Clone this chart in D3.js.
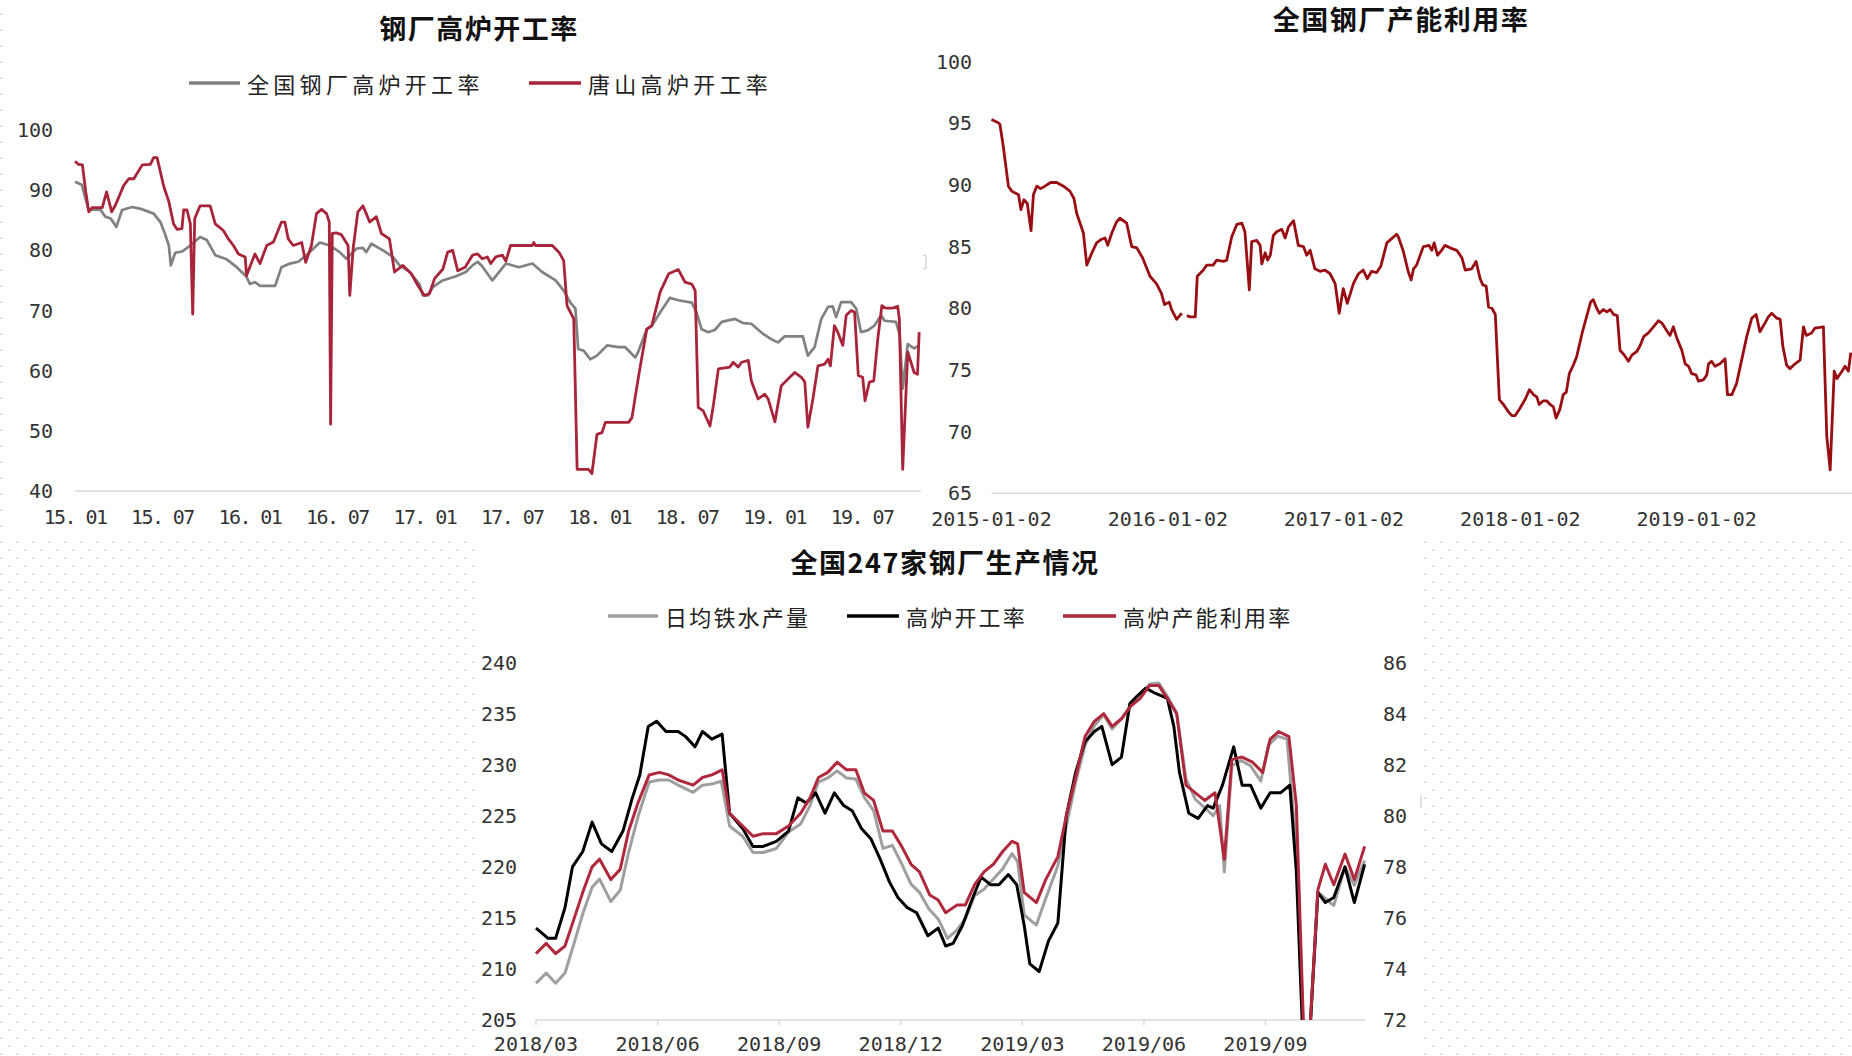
<!DOCTYPE html>
<html>
<head>
<meta charset="utf-8">
<script src="https://cdn.jsdelivr.net/npm/d3@7"></script>
<style>
  html, body { margin: 0; padding: 0; background: #fff; }
  svg { display: block; }
</style>
</head>
<body>
<svg id="chart" width="1852" height="1056"></svg>
<script>
/* ── data: chart 1 (weekly, x = weeks since 2015-01) ─────────── */
const c1Ticks  = ['15. 01', '15. 07', '16. 01', '16. 07', '17. 01', '17. 07', '18. 01', '18. 07', '19. 01', '19. 07'];
const c1YTicks = [40, 50, 60, 70, 80, 90, 100];

const c1National = [
  [0,91.4],[2,90.9],[4,86.8],[7.6,86.7],[9,85.6],[10.6,85.3],[12.3,83.9],[14,86.7],[17,87.2],[19.5,86.9],
  [23.4,86.1],[25.4,84.7],[26.9,82.5],[27.9,80.8],[28.5,77.5],[29.8,79.6],[31.8,79.8],[34.3,80.8],[37.2,82.2],
  [39.2,81.7],[41.7,79.2],[45.1,78.5],[48.1,77.2],[51,75.6],[52,74.4],[53.5,74.7],[55,74.1],[59.5,74.1],
  [61.4,77.2],[63.9,77.8],[66.4,78.1],[68.8,79.2],[72.8,81.3],[75.8,80.8],[78.7,79.7],[80.7,78.6],[83.7,80.3],
  [85.6,80.4],[86.6,79.7],[88.1,81.1],[91.6,80.0],[94.5,78.9],[96.5,77.5],[99.5,76.4],[102.4,74.4],[103.4,72.5],
  [104.9,72.5],[106.4,73.9],[109.3,75],[113.3,75.7],[116.2,76.4],[118.2,77.5],[119.7,78.1],[121,77.4],[124.1,75],
  [128.1,77.8],[132,77.2],[136,77.8],[138.9,76.4],[142.9,75],[145.3,73.3],[147.3,71.3],[148.8,70.3],[149.6,63.6],
  [151.3,63.3],[153.2,61.9],[155.2,62.5],[158.2,64.2],[161.6,63.9],[163.6,63.9],[166.6,62.2],[167.6,63.3],
  [170,66.9],[171.5,67.4],[174,69.7],[176.9,72.1],[179.4,71.7],[183.4,71.3],[184.8,69.7],[186.3,66.9],[188.3,66.4],
  [190.3,66.8],[192.3,68.1],[196.2,68.6],[198.7,67.9],[201.1,67.8],[204.6,66.1],[207.1,65.2],[209,64.7],[211,65.7],
  [216.4,65.7],[217.9,62.5],[219.9,63.9],[221.9,68.6],[223.9,70.6],[225.3,70.7],[226.3,68.9],[227.8,71.4],
  [230.8,71.4],[232.3,70.3],[233.7,66.4],[235.7,66.7],[237.7,67.5],[239.7,69.2],[240.7,68.3],[244.1,68.1],
  [245.2,66],[246.1,57],[247.6,64.4],[249.5,63.7],[251,64.2]
];

const c1Tangshan = [
  [0,94.8],[1,94.3],[2.2,94.2],[3.2,89.7],[4.1,86.4],[5.1,87.1],[8.1,87.1],[9.4,89.7],[10.9,86.4],[12,87.5],
  [14.5,90.8],[16,91.9],[17.5,91.9],[20,94.2],[22.4,94.3],[23.4,95.4],[24.4,95.4],[26.4,90.6],[27.9,88.1],
  [29.3,84.4],[30.3,83.5],[31.8,83.6],[32.3,86.7],[33.3,86.7],[34.3,84.4],[35,69.4],[35.6,85.3],[37.2,87.4],
  [40.2,87.4],[41.7,84.4],[44.1,83.3],[45.6,81.9],[47.1,80.8],[48.6,79.4],[50.6,78.9],[51,75.8],[53.5,79.4],
  [55,77.8],[57,80.8],[59,81.4],[61.4,84.7],[62.4,84.7],[63.4,81.9],[64.9,80.8],[67.4,81.3],[68.6,78],[70.3,80.8],
  [71.8,86.1],[73.3,86.8],[74.8,86.1],[75.6,84.7],[76,51.1],[76.5,82.8],[77.7,82.9],[79.2,82.6],[81.2,80.8],
  [81.7,72.5],[82.7,80.3],[84.1,86.4],[85.6,87.4],[86.6,86.1],[87.6,84.7],[89.6,85.6],[91.1,82.8],[93.5,81.9],
  [95,76.4],[97.5,77.5],[100,76.1],[101.9,74.2],[103.9,72.5],[105.4,72.8],[106.9,75.3],[109.4,76.9],[110.8,79.7],
  [112.3,80],[113.8,76.6],[116,77.2],[118.2,79.2],[119.7,79.4],[121.1,78.6],[122.6,78.9],[123.6,77.8],[125.1,78.9],
  [127.1,79.2],[128.1,78.2],[129.5,80.8],[136,80.8],[136.4,81.3],[136.9,80.8],[141.9,80.8],[143.9,79.7],
  [145.3,78.3],[146.3,70.8],[148.3,68.6],[149.3,43.6],[152.7,43.6],[153.7,42.9],[155.2,49.4],[156.7,49.7],
  [157.7,51.4],[164.6,51.4],[165.6,52.2],[167.6,59.2],[170,66.9],[171.5,67.5],[174,73.1],[176.5,76.1],[179.4,76.8],
  [181.4,74.7],[183.4,74.4],[184.4,73.3],[185.3,53.9],[186.8,53.3],[188.8,50.8],[189.8,54.2],[191.3,60.3],
  [194.7,60.6],[195.7,61.4],[197.2,60.6],[198.2,61.4],[200.2,61.7],[201.1,58.3],[203.1,55.3],[205.1,56.1],
  [206.1,55.3],[208.1,51.5],[210,57.5],[212,58.6],[214,59.7],[216,58.9],[217,58.1],[217.9,50.6],[219.4,55.3],
  [220.9,60.8],[222.9,61.1],[223.9,61.9],[224.6,60.8],[225.8,67.5],[226.8,66.4],[228.3,64.2],[229.3,69.2],
  [230.8,70],[231.8,69.7],[232.9,59.2],[234.2,58.9],[234.9,55],[236.2,58.1],[237.5,58.3],[238.7,65.3],[239.9,70.8],
  [241.1,70.4],[243.1,70.4],[244.6,70.7],[245.1,68.6],[246.1,43.6],[247.6,63.1],[249.5,59.7],[250.5,59.4],[251,66.4]
];

/* ── data: chart 2 (weekly, x = weeks since 2015-01-02) ──────── */
const c2Ticks     = ['2015-01-02', '2016-01-02', '2017-01-02', '2018-01-02', '2019-01-02'];
const c2TickWeeks = [0, 52.2, 104.3, 156.5, 208.7];
const c2YTicks    = [65, 70, 75, 80, 85, 90, 95, 100];

const c2Utilization = [
  [0,95.3],[2,95.05],[2.5,94.9],[3.5,93.1],[5,89.9],[6,89.5],[8,89.2],[8.7,88],[9.6,88.8],[10.6,88.5],[11.7,86.3],
  [12.4,89.2],[13.4,89.9],[14.5,89.7],[15.8,89.9],[17.5,90.2],[19.3,90.2],[21.3,89.9],[23.2,89.5],[24.4,88.9],
  [25.2,87.7],[27.2,86.1],[28.2,83.5],[29.7,84.5],[31.1,85.3],[32.6,85.6],[33.6,85.7],[34.4,85.1],[35.6,86.1],
  [37,87],[38,87.3],[40,86.9],[41.5,85],[43,84.9],[44.7,84.1],[46.9,82.6],[48.8,82],[50.3,81.2],[51.2,80.3],
  [52.6,80.5],[53.3,79.9],[54.8,79.1],[56.3,79.6],[57,null],[57.8,79.4],[58.8,79.3],[60.3,79.3],[60.9,82.6],
  [62.7,83.1],[63.7,83.5],[65.6,83.5],[66.6,83.9],[68.6,83.8],[69.6,83.9],[71.1,85.8],[72.6,86.8],[74.1,86.9],
  [75,86.2],[76.3,81.5],[77,85.4],[78.5,85.5],[79.5,85.1],[80,83.6],[81,84.5],[81.7,83.9],[82.5,84.3],[83.4,85.9],
  [84.4,86.2],[85.9,86.4],[86.9,85.7],[87.9,86.6],[89.4,87.1],[90.8,85.1],[92.3,85],[93.3,84.3],[94.3,84.7],
  [95.7,83.2],[97.2,83],[98.7,83.1],[100.2,82.8],[101.7,82],[102.9,79.6],[104.1,81.6],[105.3,80.4],[107.1,82],
  [108.6,82.8],[110,83.1],[111.2,82.4],[112.5,83],[114,82.9],[115.2,83.4],[117,85.3],[119.9,86],[120.4,85.8],
  [121.9,84.6],[123.3,83],[124.2,82.3],[124.9,83.2],[125.8,83.5],[127.8,85],[129.5,85.1],[130.3,84.7],[131,85.3],
  [132,84.3],[133.2,84.7],[134.2,85.1],[135.7,84.9],[137.7,84.7],[139.2,84.1],[140.2,83.1],[142.1,83.2],
  [143.4,83.8],[144.6,82.4],[145.4,81.9],[146.4,81.8],[147.1,80.1],[148.1,80],[149.1,79.5],[150.3,72.6],
  [151.5,72.2],[153,71.6],[154,71.3],[155,71.3],[156.4,71.9],[157.9,72.6],[159.2,73.4],[160.4,73],[161.4,72.8],
  [162.1,72.2],[163.3,72.5],[164.3,72.5],[165.3,72.2],[166.3,72],[167.1,71.1],[168.2,71.8],[169.2,73],[170.1,73.2],
  [171,74.7],[172.2,75.4],[173.2,76.1],[174.8,78],[176.1,79.3],[177.3,80.5],[178.1,80.7],[179.1,80],[179.9,79.6],
  [181.1,79.9],[182.1,79.7],[183.1,79.9],[184.1,79.5],[185.2,79.4],[186,76.6],[187.3,76.2],[188.5,75.7],
  [189.5,76.2],[191,76.5],[192,77],[193,77.7],[194.4,78],[195.9,78.5],[197.4,79],[198.4,78.8],[199.8,78.2],
  [200.8,77.8],[201.8,78.5],[202.8,77.6],[204.3,76.6],[205.3,75.5],[206.3,75.3],[207.2,74.7],[208.5,74.6],
  [209.2,74.1],[210.7,74.2],[211.7,74.6],[212.2,75.5],[213.1,75.7],[214.1,75.3],[215.6,75.5],[217.1,75.9],
  [217.8,73],[219.1,73],[220.5,73.9],[222,75.8],[223.5,77.7],[225,79.2],[226.3,79.5],[227.4,78.1],[228.9,78.8],
  [229.9,79.3],[230.9,79.6],[232.4,79.2],[233.4,79.1],[234.2,76.9],[235.3,75.4],[236.3,75.1],[237.8,75.5],
  [239.3,75.8],[240.3,78.5],[241.1,77.8],[242.7,78],[243.7,78.4],[246.2,78.5],[247.2,69.6],[248.2,66.9],
  [249.4,74.9],[250.2,74.3],[251.7,74.9],[252.6,75.3],[253.6,74.9],[254.3,76.4]
];

/* ── data: chart 3 (weekly, x = weeks since 2018/03) ─────────── */
const c3Ticks     = ['2018/03', '2018/06', '2018/09', '2018/12', '2019/03', '2019/06', '2019/09'];
const c3TickWeeks = [0, 13, 26, 39, 52, 65, 78];
const c3LeftTicks  = [205, 210, 215, 220, 225, 230, 235, 240];
const c3RightTicks = [72, 74, 76, 78, 80, 82, 84, 86];

// 日均铁水产量 (left axis)
const c3HotMetal = [
  [0,208.6],[1.1,209.6],[2.1,208.6],[3.1,209.6],[4.1,212.6],[5,215.4],[6,218],[6.8,218.8],[8,216.6],[9,217.7],
  [9.9,221.4],[10.9,224.9],[12.1,228.3],[13.2,228.5],[14.2,228.5],[15.2,228],[16.8,227.3],[17.8,228],[18.8,228.1],
  [19.8,228.4],[20.7,224],[22.1,223],[23.2,221.4],[24.3,221.4],[25.7,221.8],[27,223.4],[28.3,224.2],[29.3,226],
  [30.2,228.3],[31.2,228.7],[32.2,229.4],[33.2,228.7],[34.2,228.6],[35.1,226.8],[36.1,225.5],[37.1,221.8],
  [38.1,222.1],[39.1,220.3],[40.1,218.3],[41,217.5],[42,215.9],[43,214.9],[44,213],[45,213.8],[45.9,214.9],
  [46.9,217.2],[47.9,217.8],[48.9,218.8],[49.9,219.8],[50.9,221.3],[51.5,220.5],[52.2,215.3],[53.5,214.3],
  [54.5,216.9],[55.8,220.1],[56.7,224],[57.7,228.3],[58.7,231.9],[59.7,233.8],[60.7,234.9],[61.6,233.5],
  [62.6,234.5],[63.6,235.8],[64.6,236.6],[65.6,237.9],[66.6,238],[67.5,236.7],[68.5,235.1],[69.5,228.6],
  [70.5,226.6],[71.5,225.8],[72.4,225],[73.1,226],[73.6,219.5],[74.4,229.9],[75.4,230.4],[76.4,229.9],
  [77.5,228.4],[78.3,231.9],[79.3,232.8],[80.3,232.5],[81.3,221.8],[82.1,203],[82.7,203],[83.6,217.5],
  [84.4,216.9],[85.3,216.2],[86.5,220],[87.5,218.2],[88.6,220.6]
];

// 高炉开工率 (right axis)
const c3OperRate = [
  [0,75.6],[1.3,75.2],[2.1,75.2],[3.1,76.4],[3.9,78],[5,78.6],[6,79.75],[7,78.9],[8.1,78.6],[9.3,79.4],[10.3,80.7],
  [11.1,81.6],[12,83.5],[12.9,83.7],[13.9,83.3],[15.2,83.3],[16,83.1],[17,82.7],[17.8,83.3],[18.8,83],[19.9,83.2],
  [20.7,80.1],[22.1,79.5],[23.2,78.8],[24.3,78.8],[25.7,79],[27,79.4],[28,80.7],[28.9,80.5],[29.9,80.9],[30.9,80.1],
  [31.9,80.9],[32.9,80.4],[33.8,80.2],[34.8,79.5],[35.8,79.1],[36.8,78.3],[37.8,77.4],[38.7,76.8],[39.7,76.4],
  [40.7,76.2],[41.9,75.3],[43,75.6],[43.8,74.9],[44.6,75],[45.6,75.7],[46.6,76.7],[47.6,77.6],[48.6,77.3],
  [49.5,77.3],[50.5,77.7],[51.4,77.3],[52.2,75.7],[52.8,74.2],[53.8,73.9],[54.8,75.1],[55.8,75.8],[56.7,80],
  [57.7,81.7],[58.7,82.9],[59.7,83.3],[60.5,83.5],[61.6,82],[62.6,82.3],[63.5,84.4],[64.3,84.7],[65.2,85],
  [66.2,84.8],[67.5,84.6],[68.2,83.5],[68.8,81.7],[69.8,80.1],[70.8,79.9],[71.8,80.4],[72.4,80.3],[73.4,81.2],
  [74.6,82.7],[75.5,81.2],[76.4,81.2],[77.5,80.3],[78.5,80.9],[79.6,80.9],[80.6,81.2],[81.3,77.8],[82,71.2],
  [82.7,71.2],[83.6,77],[84.4,76.6],[85.3,76.8],[86.5,78],[87.5,76.6],[88.6,78.1]
];

// 高炉产能利用率 (right axis)
const c3CapUtil = [
  [0,74.6],[1.1,75],[2.1,74.6],[3.1,74.9],[4.1,76],[5,77],[6,78],[6.8,78.3],[8,77.5],[9,77.9],[9.9,79.4],
  [10.9,80.5],[12.1,81.6],[13.2,81.7],[14.2,81.6],[15.2,81.4],[16.8,81.2],[17.8,81.5],[18.8,81.6],[19.9,81.8],
  [20.7,80.1],[22.1,79.6],[23.2,79.2],[24.3,79.3],[25.7,79.3],[27,79.6],[28.3,80.1],[29.3,80.7],[30.2,81.5],
  [31.2,81.7],[32.2,82.1],[33.2,81.8],[34.2,81.8],[35.1,80.9],[36.1,80.6],[37.1,79.4],[38.1,79.4],[39.1,78.8],
  [40.1,78.1],[41,77.8],[42.1,76.9],[43,76.7],[43.8,76.2],[45,76.5],[45.9,76.5],[46.9,77.3],[47.9,77.8],
  [48.9,78.1],[49.9,78.6],[50.9,79],[51.5,78.9],[52.2,77],[53.5,76.6],[54.5,77.5],[55.8,78.4],[56.7,80],
  [57.7,81.5],[58.7,83.1],[59.7,83.7],[60.7,84],[61.6,83.5],[62.6,83.8],[63.6,84.3],[64.6,84.6],[65.6,85.1],
  [66.6,85.1],[67.5,84.6],[68.5,84],[69.5,81.2],[70.5,80.9],[71.5,80.6],[72.6,80.9],[73.6,78.3],[74.4,82.2],
  [75.5,82.3],[76.6,82.1],[77.7,81.7],[78.5,83],[79.4,83.3],[80.5,83.1],[81.3,80.4],[82.1,71.3],[82.7,71.3],
  [83.6,77.1],[84.4,78.1],[85.3,77.3],[86.5,78.5],[87.5,77.5],[88.6,78.8]
];

/* ── setup ─────────────────────────────────────────────────── */
const svg = d3.select('#chart');
const TICK_FONT = '"DejaVu Sans Mono", "Liberation Mono", monospace';
const CJK_FONT  = '"Noto Sans CJK SC", "Noto Sans", sans-serif';
const AXIS_TXT  = '#333';
const BASE_CLR  = '#d9d9d9';

// dotted page background round the chart panels
const defs = svg.append('defs');
const pat = defs.append('pattern')
  .attr('id', 'dots')
  .attr('patternUnits', 'userSpaceOnUse')
  .attr('width', 16).attr('height', 16)
  .attr('x', 0).attr('y', 541);
pat.append('rect').attr('x', 0.5).attr('y', 0.5).attr('width', 1.4).attr('height', 1.4).attr('fill', '#c2c2c2');
pat.append('rect').attr('x', 8.5).attr('y', 8.5).attr('width', 1.4).attr('height', 1.4).attr('fill', '#c2c2c2');

[[0, 541, 475, 515], [1423, 541, 429, 515], [0, 0, 4, 541]].forEach(([x, y, w, h]) => {
  svg.append('rect').attr('x', x).attr('y', y).attr('width', w).attr('height', h).attr('fill', 'url(#dots)');
});

// small frame marks left over from the panels
svg.append('path').attr('d', 'M923,255 L926,256 L926,268 L923,269')
  .attr('fill', 'none').attr('stroke', '#cfcfcf').attr('stroke-width', 1.2);
svg.append('line').attr('x1', 1421).attr('x2', 1421).attr('y1', 795).attr('y2', 808)
  .attr('stroke', '#cfcfcf').attr('stroke-width', 1.2);

/* ── helpers ──────────────────────────────────────────────── */

function title(text, cx, cy) {
  svg.append('text')
    .attr('x', cx).attr('y', cy)
    .attr('text-anchor', 'middle')
    .attr('dominant-baseline', 'central')
    .attr('font-family', CJK_FONT)
    .attr('font-weight', 'bold')
    .attr('font-size', 27)
    .attr('letter-spacing', 1.5)
    .attr('fill', '#111')
    .text(text);
}

function legendItem(x1, x2, y, color, label, fontSize, spacing) {
  svg.append('line')
    .attr('x1', x1).attr('x2', x2).attr('y1', y).attr('y2', y)
    .attr('stroke', color).attr('stroke-width', 3.5);
  svg.append('text')
    .attr('x', x2 + 7).attr('y', y)
    .attr('dominant-baseline', 'central')
    .attr('font-family', CJK_FONT)
    .attr('font-size', fontSize)
    .attr('letter-spacing', spacing)
    .attr('fill', '#222')
    .text(label);
}

function yLabels(scale, ticks, x, anchor) {
  svg.append('g').selectAll('text')
    .data(ticks)
    .enter()
    .append('text')
      .attr('x', x)
      .attr('y', d => scale(d))
      .attr('text-anchor', anchor)
      .attr('dominant-baseline', 'central')
      .attr('font-family', TICK_FONT)
      .attr('font-size', 20)
      .attr('fill', AXIS_TXT)
      .text(d => d);
}

function xLabels(scale, weeks, labels, y, spacing) {
  svg.append('g').selectAll('text')
    .data(weeks)
    .enter()
    .append('text')
      .attr('x', d => scale(d))
      .attr('y', y)
      .attr('text-anchor', 'middle')
      .attr('dominant-baseline', 'central')
      .attr('font-family', TICK_FONT)
      .attr('font-size', 20)
      .attr('letter-spacing', spacing)
      .attr('fill', AXIS_TXT)
      .text((d, i) => labels[i]);
}

function series(data, x, y, color, width, clip) {
  const line = d3.line()
    .defined(d => d[1] != null)
    .x(d => x(d[0]))
    .y(d => y(d[1]));
  const p = svg.append('path')
    .datum(data)
    .attr('fill', 'none')
    .attr('stroke', color)
    .attr('stroke-width', width)
    .attr('stroke-linejoin', 'round')
    .attr('d', line);
  if (clip) p.attr('clip-path', `url(#${clip})`);
}

/* ── chart 1: 钢厂高炉开工率 ─────────────────────────────────── */
{
  const x = d3.scaleLinear().domain([0, 234]).range([75, 862]);
  const y = d3.scaleLinear().domain([40, 100]).range([491, 130]);

  title('钢厂高炉开工率', 479, 27);
  legendItem(189, 240, 83, '#808080', '全国钢厂高炉开工率', 22, 4.3);
  legendItem(529, 581, 83, '#a8243a', '唐山高炉开工率', 22, 4.3);

  svg.append('line')
    .attr('x1', x(0)).attr('x2', 921).attr('y1', y(40)).attr('y2', y(40))
    .attr('stroke', BASE_CLR).attr('stroke-width', 1.5);

  yLabels(y, c1YTicks, 53, 'end');
  xLabels(x, c1Ticks.map((_, i) => i * 26), c1Ticks, 517, -1.6);

  series(c1National, x, y, '#818181', 2.7);
  series(c1Tangshan, x, y, '#a8243a', 2.8);
}

/* ── chart 2: 全国钢厂产能利用率 ─────────────────────────────── */
{
  const x = d3.scaleLinear().domain([0, 208.7]).range([991.5, 1696.7]);
  const y = d3.scaleLinear().domain([65, 100]).range([493.3, 61.6]);

  title('全国钢厂产能利用率', 1401, 18);

  svg.append('line')
    .attr('x1', x(0)).attr('x2', 1852).attr('y1', y(65)).attr('y2', y(65))
    .attr('stroke', BASE_CLR).attr('stroke-width', 1.5);

  yLabels(y, c2YTicks, 972, 'end');
  xLabels(x, c2TickWeeks, c2Ticks, 519, 0);

  series(c2Utilization, x, y, '#990e12', 2.8);
}

/* ── chart 3: 全国247家钢厂生产情况 ──────────────────────────── */
{
  const x  = d3.scaleLinear().domain([0, 78]).range([536, 1265.5]);
  const yL = d3.scaleLinear().domain([205, 240]).range([1020, 662.6]);
  const yR = d3.scaleLinear().domain([72, 86]).range([1020, 662.6]);

  defs.append('clipPath').attr('id', 'clip3')
    .append('rect').attr('x', 520).attr('y', 640).attr('width', 860).attr('height', 380);

  title('全国247家钢厂生产情况', 945, 561);
  legendItem(608, 658, 616, '#a0a0a0', '日均铁水产量', 22, 2.2);
  legendItem(847, 899, 616, '#000000', '高炉开工率', 22, 2.2);
  legendItem(1063, 1116, 616, '#b0283c', '高炉产能利用率', 22, 2.2);

  // baseline with small ticks
  svg.append('line')
    .attr('x1', x(0)).attr('x2', 1365).attr('y1', yL(205)).attr('y2', yL(205))
    .attr('stroke', BASE_CLR).attr('stroke-width', 1.5);
  svg.append('g').selectAll('line')
    .data(c3TickWeeks)
    .enter()
    .append('line')
      .attr('x1', d => x(d)).attr('x2', d => x(d))
      .attr('y1', yL(205)).attr('y2', yL(205) + 5)
      .attr('stroke', BASE_CLR).attr('stroke-width', 1.5);

  yLabels(yL, c3LeftTicks, 517, 'end');
  yLabels(yR, c3RightTicks, 1383, 'start');
  xLabels(x, c3TickWeeks, c3Ticks, 1044, 0);

  series(c3HotMetal, x, yL, '#9f9f9f', 3.0, 'clip3');
  series(c3OperRate, x, yR, '#000000', 3.0, 'clip3');
  series(c3CapUtil,  x, yR, '#b0283c', 3.0, 'clip3');
}
</script>
</body>
</html>
